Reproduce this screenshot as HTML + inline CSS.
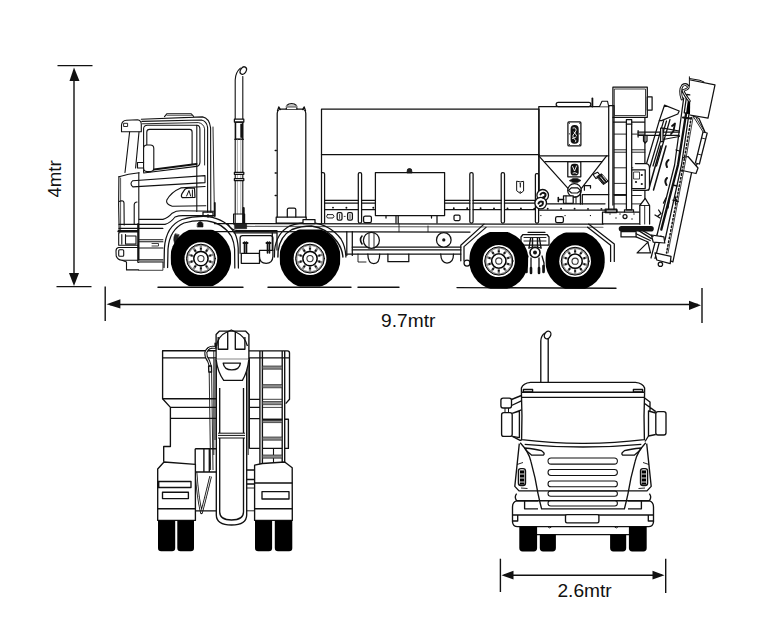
<!DOCTYPE html>
<html><head><meta charset="utf-8"><title>Truck dimensions</title>
<style>
html,body{margin:0;padding:0;background:#fff;}
body{width:768px;height:644px;overflow:hidden;}
svg{display:block;}
text{font-family:"Liberation Sans",sans-serif;fill:#111;}
</style></head>
<body>
<svg width="768" height="644" viewBox="0 0 768 644">
<rect width="768" height="644" fill="#fff"/>

<!-- DIMENSIONS -->
<g id="dims" stroke="#111" stroke-width="1.4" fill="none">
  <line x1="74" y1="70" x2="74" y2="283"/>
  <line x1="57.5" y1="65.6" x2="92.5" y2="65.6"/>
  <line x1="56.5" y1="286.6" x2="91.5" y2="286.6"/>
  <line x1="110" y1="304.5" x2="698" y2="304.5"/>
  <line x1="105.2" y1="286.5" x2="105.2" y2="321"/>
  <line x1="702" y1="288" x2="702" y2="323"/>
  <line x1="504" y1="575.2" x2="662" y2="575.2"/>
  <line x1="500.4" y1="558.7" x2="500.4" y2="592"/>
  <line x1="665.7" y1="558.7" x2="665.7" y2="593"/>
</g>
<g fill="#111" stroke="none">
  <polygon points="74,67.5 69.5,81 79.5,81"/>
  <polygon points="74,286 69,273 79,273"/>
  <polygon points="106.5,304.3 120.4,299.2 120.4,308.6"/>
  <polygon points="701,305.3 689,300.8 689,310"/>
  <polygon points="501.5,575.2 513.5,570.8 513.5,579.6"/>
  <polygon points="664.5,575.2 652.5,570.8 652.5,579.6"/>
</g>
<text transform="translate(408.2,327.3) scale(1.03,1)" font-size="18.6" text-anchor="middle">9.7mtr</text>
<text transform="translate(584.6,597) scale(1.03,1)" font-size="18.6" text-anchor="middle">2.6mtr</text>
<text transform="translate(60.5,178.9) rotate(-90)" font-size="18.6" text-anchor="middle">4mtr</text>

<!-- SIDE VIEW -->
<g id="side" stroke="#111" stroke-width="1.25" fill="none" stroke-linejoin="round" stroke-linecap="round">


  <!-- exhaust -->
  <path d="M235.2,226 L235.2,80 Q235.4,72.5 240.4,68.2" stroke-width="1.1"/>
  <path d="M242.8,226 L242.8,76.5" stroke-width="1.1"/>
  <ellipse cx="243.3" cy="70.6" rx="2.8" ry="4" transform="rotate(30 243.3 70.6)" fill="#fff"/>
  <rect x="234.4" y="119.2" width="9.4" height="2.8" fill="#fff"/>
  <rect x="235.6" y="122.2" width="7" height="16.8"/>
  <path d="M241.2,124.5 L241.2,137" stroke-width="1.8"/>
  <path d="M234.6,139.3 L243.6,139.3" stroke-width="1"/>
  <path d="M237.4,139.5 L237.4,214 M240.8,139.5 L240.8,214" stroke-width="0.6" stroke="#777"/>
  <rect x="234.4" y="172.3" width="9.4" height="2" fill="#fff"/>
  <rect x="234.4" y="178.6" width="9.4" height="2" fill="#fff"/>
  <path d="M233.6,214 L233.6,224 L244.6,224 L244.6,214 Z" stroke-width="1.2"/>
  <path d="M243.6,208 L243.6,224" stroke-width="2.2"/>
  <!-- vertical tank -->
  <path d="M277.2,217 L277.2,113.5 Q277.4,109.2 281.5,109 L301.5,109 Q305.6,109.2 305.8,113.5 L305.8,217"/>
  <path d="M277.4,110.8 L278.8,106.8 L280.6,109.6 M305.6,110.8 L304.2,106.8 L302.4,109.6" stroke-width="1.1"/>
  <path d="M286.2,109 L287.2,105.2 Q288.5,103.6 291.6,103.6 Q294.7,103.6 296,105.2 L297,109" fill="#fff"/>
  <path d="M286.8,106.6 L296.4,106.6" stroke="#888" stroke-width="2.4"/>
  <path d="M275.2,150.5 L276.3,150.5 M275.2,173 L276.3,173 M275.2,195.5 L276.3,195.5" stroke-width="1.4"/>
  <rect x="276.2" y="217.1" width="30" height="6" />
  <path d="M287.3,217 L287.3,209.5 Q287.5,208 289,208 L294.2,208 Q295.8,208 295.8,209.5 L295.8,217"/>
  <!-- main body -->
  <path d="M321.5,223 L321.5,109 L539,109 L539,201"/>
  <path d="M321.5,154.7 L539,154.7"/>
  <path d="M324.6,223 L324.6,174 Q324.6,172.5 323,172.5 L321.5,172.5"/>
  <rect x="358.3" y="172.5" width="3.3" height="50.5" rx="1.5"/>
  <rect x="469.8" y="172.6" width="3.3" height="50.4" rx="1.5"/>
  <rect x="501.2" y="172.6" width="3.3" height="50.4" rx="1.5"/>
  <rect x="535.4" y="173.6" width="3.2" height="49.4" rx="1.2"/>
  <rect x="375.4" y="172.5" width="69.2" height="43" fill="#fff"/>
  <path d="M407,172.5 L407.6,169.2 Q409.5,167.8 411.4,169.2 L412,172.5 Z" fill="#222" stroke-width="0.9"/>
  <path d="M386,215.5 L386,218 M396,215.5 L396,223 M398.2,215.5 L398.2,223 M431.5,215.5 L431.5,218 M437,215.5 L437,223" />
  <path d="M324.6,200.4 L358.3,200.4 M361.6,200.4 L375.4,200.4 M444.6,200.4 L469.8,200.4 M473.1,200.4 L501.2,200.4 M504.5,200.4 L535.4,200.4"/>
  <path d="M324.6,203.2 L358.3,203.2 M361.6,203.2 L375.4,203.2 M444.6,203.2 L469.8,203.2 M473.1,203.2 L501.2,203.2 M504.5,203.2 L535.4,203.2"/>
  <path d="M324.6,209.5 L358.3,209.5 M361.6,209.5 L375.4,209.5 M444.6,209.5 L469.8,209.5 M473.1,209.5 L501.2,209.5 M504.5,209.5 L535.4,209.5 M538.6,210.1 L605,210.2"/>
  <path d="M538.6,203.8 L605,203.8"/>
  <g fill="#111" stroke="none">
  <circle cx="333.0" cy="207.6" r="0.95"/><circle cx="346.4" cy="207.7" r="0.95"/><circle cx="373.3" cy="207.8" r="0.95"/><circle cx="453.8" cy="208.2" r="0.95"/><circle cx="467.2" cy="208.3" r="0.95"/><circle cx="480.6" cy="208.3" r="0.95"/><circle cx="494.0" cy="208.4" r="0.95"/><circle cx="507.5" cy="208.5" r="0.95"/><circle cx="520.9" cy="208.5" r="0.95"/><circle cx="534.3" cy="208.6" r="0.95"/><circle cx="547.7" cy="208.7" r="0.95"/><circle cx="561.1" cy="208.7" r="0.95"/><circle cx="574.6" cy="208.8" r="0.95"/><circle cx="588.0" cy="208.9" r="0.95"/><circle cx="601.4" cy="208.9" r="0.95"/><rect x="540.3" y="215" width="1.1" height="1.1"/><rect x="564.5" y="215" width="1.1" height="1.1"/><rect x="589.9" y="215" width="1.1" height="1.1"/></g>
  <path d="M327.5,214.6 L333,214.6 Q335,216.3 333,218 L327.5,218 Q325.5,216.3 327.5,214.6 Z" stroke-width="0.9"/>
  <rect x="337.2" y="212.6" width="4.8" height="7.6" rx="1.4"/>
  <rect x="347.6" y="212.6" width="4.8" height="7.6" rx="1.4"/>
  <path d="M339.6,214.5 L339.6,218.5 M350,214.5 L350,218.5 M344.2,216.4 L345.2,216.4" stroke-width="0.8"/>
  <rect x="363.6" y="216" width="7.8" height="6.6" rx="1.6"/>
  <rect x="454" y="215" width="6" height="5.5" rx="1.2"/>
  <rect x="555.6" y="216.7" width="7.8" height="5.9" rx="1.6"/>
  <path d="M517,181.3 Q520.3,182.6 523.6,181.3 L523.6,191 L520.3,193.4 L517,191 Z" stroke-width="1"/>
  <path d="M520.3,183.2 L520.3,187" stroke-width="1.1"/><circle cx="520.3" cy="192" r="0.8" fill="#111" stroke="none"/>
  <!-- hopper -->
  <path d="M538.8,201 L538.8,106.5 L608.7,106.5"/>
  <path d="M538.8,155.8 L608.7,155.8 M545,161.6 L602,161.6"/>
  <path d="M538.8,155.8 L568,188.3 M606.6,155.8 L581.4,188.3"/>
  <rect x="556.2" y="102.3" width="34.6" height="4.2" rx="2"/>
  <path d="M592.4,106.5 L592.4,98.4" stroke-width="1.8"/>
  <path d="M599.5,106.5 L602,101.2 L607.5,101.2 L608.7,106.5" fill="#fff" stroke-width="1.1"/>
  <rect x="567.9" y="121.9" width="13" height="24" rx="1"/>
  <rect x="570.6" y="125.1" width="8.1" height="18.7" rx="3.8" fill="#111" stroke="none"/>
  <path d="M573,128 Q576.5,127 576,130.5 Q575,133.5 573,135 Q572,138 575,139.5 Q577,141 575.5,142 M574,132 L576.5,135.5 M572.5,138.5 L576,137" stroke="#fff" stroke-width="0.9"/>
  <g fill="#111" stroke="none"><circle cx="569.4" cy="123.2" r=".6"/><circle cx="579.7" cy="123.2" r=".6"/><circle cx="569.4" cy="144.5" r=".6"/><circle cx="579.7" cy="144.5" r=".6"/><circle cx="569.4" cy="133.8" r=".6"/><circle cx="579.7" cy="133.8" r=".6"/></g>
  <rect x="567.8" y="161.7" width="13" height="15.1"/>
  <rect x="570.6" y="163.8" width="8.1" height="11.8" rx="3.4" fill="#111" stroke="none"/>
  <path d="M572.6,166.5 L574.5,171 L576.5,166 M573,173 Q575,172 577,173.5" stroke="#fff" stroke-width="0.9"/>
  <path d="M569.5,180.5 L573,178.4 L577.5,178.4 L581,180.5 L577.5,182.6 L573,182.6 Z" fill="#111" stroke-width="0.6"/>
  <circle cx="574.5" cy="190.4" r="6.8" fill="#fff"/>
  <path d="M568.5,190.4 L571.5,187.8 L577.5,187.8 L580.5,190.4 L577.5,193 L571.5,193 Z" stroke-width="1.2"/>
  <path d="M580.4,190.5 L580.4,204 M582.3,194.5 L582.3,204 M582.3,194.5 L608.7,194.5 M614,194.5 L626.4,194.5"/>
  <rect x="563.5" y="195.8" width="9.7" height="7.5" fill="#fff"/>
  <path d="M558.3,199.5 L563.5,199.5 M558.3,197.6 L558.3,201.6" stroke-width="1.6"/>
  <path d="M566,196 L566,203 M573.2,197 L576,197 L576,203.5" stroke-width="1"/>
  <circle cx="542.7" cy="195.3" r="5.8" fill="#fff" stroke-width="1.3"/>
  <circle cx="540.7" cy="203.1" r="5.8" fill="#fff" stroke-width="1.3"/>
  <path d="M540.5,194.5 Q542.5,191.5 545.5,194 Q546,197 543,197.5 M538.5,203.5 Q540,200.5 542.8,202 Q543.5,205.5 540,206" stroke-width="2"/>
  <path d="M593,174.5 L597.6,172.2 L600.6,176 L596,178.6 Z" fill="#fff" stroke-width="1.1"/>
  <path d="M597,176.5 L601.5,173.8 L608.2,181.2 L603.6,184.4 Z" fill="#1a1a1a" stroke-width="1"/>
  <path d="M600.5,177 L604.5,182 M602.8,175.8 L606.6,180.6" stroke="#fff" stroke-width="0.8"/>
  <path d="M584.4,190.2 L584.4,185.6 L590.5,185.6 L590.5,188" />

  <!-- rear ladder/frame and control box -->
  <rect x="612.9" y="87.2" width="34.4" height="30.1" fill="#fff"/>
  <rect x="614.7" y="89" width="30.8" height="26.5" stroke-width="0.8"/>
  <rect x="647.3" y="96.8" width="4.8" height="13.2" fill="#fff"/>
  <path d="M612.9,117.3 L612.9,205 M644.9,117.3 L644.9,210 M612.9,122.1 L644.9,122.1"/>
  <path d="M614.4,134.1 L644.9,134.1 M614.4,149.8 L626.4,149.8 M631.7,149.8 L644.9,149.8 M614.4,152.2 L626.4,152.2 M631.7,152.2 L644.9,152.2 M614.4,167.8 L626.4,167.8 M631.7,167.8 L632.9,167.8 M614.4,183.4 L626.4,183.4 M614.4,195.5 L626.4,195.5 M631.7,195.5 L641.3,195.5 M614.4,203.9 L626.4,203.9 M631.7,203.9 L641.3,203.9" stroke-width="0.9"/>
  <rect x="626.4" y="119.7" width="5.3" height="90.2" fill="#fff"/>
  <path d="M626.4,124 L631.7,124" />
  <rect x="602.5" y="212.1" width="37.8" height="11.7" fill="#fff"/>
  <circle cx="625" cy="216.5" r="2" />
  <g fill="#111" stroke="none"><circle cx="610" cy="214" r=".7"/><circle cx="616" cy="218" r=".7"/><circle cx="620" cy="214" r=".7"/><circle cx="632" cy="219" r=".7"/><circle cx="634" cy="214" r=".7"/></g>
  <path d="M606,211.8 L606,209.8 L617,209.8 L617,211.8 M624.5,211.8 L624.5,209.8 L633.5,209.8 L633.5,211.8" />

  <!-- boom -->
  <!-- right panel -->
  <path d="M690.5,114.5 L699,118.5 L705.2,132.5 L697.5,163.5 L691.6,172.5 L672.9,261.8 L666,259" fill="#fff"/>
  <path d="M693,116 L704.2,133.7 M696.4,118.2 L704.9,132.2" stroke-width="0.9"/>
  <!-- cylinder -->
  <path d="M703,132 L707.2,133 L699.4,164 L695.4,163 Z" fill="#fff"/>
  <path d="M701.5,138 L705.6,139 M697.5,154 L701.3,155" stroke-width="0.9"/>
  <path d="M681.5,158 L688,156.5 L698,168 L696,173.5 L680,170 Z" fill="#fff"/>
  <!-- column -->
  <path d="M683.7,98 L674.6,165 L657,235 L665,240 L681.5,165 L691,100 Z" fill="#fff" stroke="none"/>
  <path d="M683.7,98 L674.6,165 L657,235 M691,100 L681.5,165 L665,240"/>
  <path d="M687.3,106 L678,165 L661.3,229.6" stroke-width="2.3"/>
  <path d="M692.5,110 L683.3,165 L666.5,253" stroke-width="1.5" stroke-dasharray="1.6,2.2"/>
  <path d="M694,112 L684.8,165 L668,253" stroke-width="0.8"/>
  <path d="M657,235 L651,258 M661,236 L655,258.5"/>
  <path d="M676,150 L679.5,151 M673,185 L677,186" stroke-width="1.3"/>
  <rect x="685.5" y="94.9" width="8" height="18.6" fill="#fff" transform="rotate(8 689.5 104)"/>
  <rect x="686.8" y="101" width="4.6" height="12.5" fill="#000" stroke="none" transform="rotate(8 689 108)"/>
  <path d="M683,117.5 L691,118.5" stroke-width="2"/>
  <!-- top box -->
  <path d="M690.5,80 L715,84.8 L708,118.2 L690,115" fill="#fff"/>
  <path d="M689.4,76.8 L689.4,86 M689.4,78.5 L700,80.3 L704,82" stroke-width="1"/>
  <!-- hose loop -->
  <path d="M682,99 Q679,90 682.5,85.5 Q686,83 688.3,86.5 Q689,89 683,90.5 Q684,94 689.4,101" stroke-width="2.8"/>
  <path d="M682,99 Q679,90 682.5,85.5 Q686,83 688.3,86.5 Q689,89 683,90.5 Q684,94 689.4,101" stroke-width="0.9" stroke="#fff"/>
  <!-- upper-left box -->
  <path d="M664.5,105.2 L679.2,111 L677.8,114 L661.5,120.6 L659.3,120.6 Z" fill="#fff"/>
  <!-- tilted bars -->
  <path d="M659.3,120.6 L645.3,167.8 M663.7,120.6 L649.7,167.8"/>
  <path d="M666.5,121 L653,166 M670,119.5 L656.5,166" />
  <path d="M661,146 L648.5,190 M666,146 L653.5,190" stroke-width="1.5"/>
  <path d="M668.5,160 Q665,163 667,167 M667,178 Q664,181 666.5,185" stroke-width="2"/>
  <path d="M672,126 L675,123.5 L673.5,131 L671,134" stroke-width="1.8"/>
  <path d="M669,201 L668,208 M666,198 L663.5,203" stroke-width="1.4"/>
  <!-- horizontal arm -->
  <path d="M638.1,132.2 L679.3,132.2 M638.1,135.3 L679.3,135.3" />
  <path d="M638.1,130.5 L638.1,137 M663,128.2 L679.3,131 M663,139.5 L679.3,136.5 M660.6,128 L660.6,141.5 L663,141.5 L663,128 Z" fill="#fff"/>
  <path d="M643.5,135.3 L643.5,141 L645.2,143 L647,141 L647,135.3" />
  <!-- motor bracket -->
  <path d="M635.4,163.6 L646,163.6 Q649.5,164 649.5,168 L649.5,187 Q649.5,190.4 646,190.4 L633,190.4" fill="#fff"/>
  <rect x="631.8" y="169.8" width="13.4" height="18.8" fill="#fff"/>
  <rect x="634" y="172" width="5.5" height="7" stroke-width="0.8"/>
  <g fill="#111" stroke="none"><circle cx="636" cy="182" r="1.1"/><circle cx="641.8" cy="175" r="1.1"/><circle cx="641.8" cy="184" r="1.1"/></g>
  <!-- pointed post -->
  <path d="M639.8,224 L639.8,205.5 L645.2,198.4 L649.6,205.5 L649.6,224" fill="#fff"/>
  <path d="M639.8,205.5 L649.6,205.5 M644.7,205.5 L644.7,224" stroke-width="0.9"/>
  <!-- lower foot -->
  <path d="M651.4,235 L663.9,236.8 L664.8,243 L653.2,242.1 Z" fill="#fff"/>
  <path d="M637.1,252.9 L647.9,242.1 L650.5,252.9 Z" fill="#fff"/>
  <path d="M655,252.9 L671,256.4 L670.2,263.6 L656.8,260 Z" fill="#fff"/>
  <circle cx="660.4" cy="264.2" r="2.2" fill="#fff"/>
  <path d="M637.1,229.6 L651.4,238.6 M641,229.6 L653,236.5" />
  <path d="M621.5,228.8 L651,228.8" stroke-width="5.6" stroke-linecap="round"/>
  <path d="M621,231.7 L636.1,231.7 L636.1,236.9 L621,236.9 Z" fill="#fff"/>
  <path d="M636.1,233.7 L650.2,240.5 M636.1,236.9 L648,242" />
  <path d="M672.9,200.2 L678.2,201.5 M675.5,197 L675.5,204" stroke-width="1.3"/>
  <path d="M658.6,210 L661,213.6 L658,216 M655,215 L660,218" stroke-width="1.3"/>
  <!-- right post of hopper -->
  <path d="M608.7,209 L608.7,105.7 L614,105.7 L614,209"/>
  <rect x="605.2" y="209" width="11.4" height="3.5"/>


  <!-- ground -->
  <path d="M158,287.2 L243,287.2 M268,287.2 L351,287.2 M358,287.2 L399,287.2 M457,287.6 L616,288.3" stroke-width="1.4"/>
  <!-- chassis rails -->
  <path d="M214.4,223.6 L603,224.2 M214.4,231.7 L470,232 M528,232.3 L545,232.3"/>
  <path d="M244,226.4 L603,227.2" stroke="#666" stroke-width="1.1"/>
  <path d="M227.8,224 Q231.5,230.7 238,230.7 L277,230.7 M234,232.8 L277,232.8"/>
  <!-- cab fender -->
  <path d="M164,267.5 L164.4,248 Q166,226 182,219.5 Q194,215.8 208,216.6 Q226,219 235,233.5 Q237.6,239 238.2,248 L238.4,268"/>
  <path d="M167.6,267.5 L168,249 Q169.5,229.5 184,223 Q195,219.8 207,220.8 Q223.5,223 231.5,236.5 Q234,242 234.6,249 L234.8,268"/>
  <path d="M208,214.5 L208,217.2 M203,216.2 L213,216.2 L213,212 L203,212 Z" fill="#fff"/>
  <!-- 2nd axle fender -->
  <path d="M274.4,257 L274.6,250 Q276.5,233 290,225.8 Q300,222.3 312,222.6 Q330,224.5 341,239 Q345.5,246.5 345.9,257"/>
  <path d="M277.9,257 L278.1,251 Q280,236 292,229.5 Q301,226 311.5,226 Q327,228 337,241.5 Q342.4,249 342.9,257" stroke-width="1.4"/>
  <rect x="303" y="219.5" width="12" height="4" fill="#fff"/>
  <!-- between axles under chassis -->
  <path d="M240.1,253.3 L240.1,238 Q240.1,235.7 242.5,235.7 L270.5,235.7 Q272.9,235.7 272.9,238 L272.9,250.4"/>
  <rect x="241.3" y="253.3" width="18.2" height="10" fill="#fff"/>
  <path d="M259.5,250.4 L272.9,250.4 L272.9,256.5 Q272.5,263.3 266.2,263.3 Q259.5,263.3 259.5,256.5 Z" fill="#fff"/>
  <path d="M244.5,242 L244.5,253 M246.5,242 L246.5,253 M267.5,242 L267.5,253 M269.5,242 L269.5,253" stroke-width="1.6"/>
  <path d="M243.5,243 L247.5,243 M266.5,243 L270.5,243" stroke-width="2"/>
  <path d="M272.3,232.8 L272.3,250 M277,232.8 L277,250" />
  <path d="M234.8,223.4 L246.6,223.4 L246.6,228.7 L234.8,228.7 Z" fill="#222" stroke-width="0.6"/>
  <path d="M197.5,223.5 Q200.3,219.5 203,223.5 L203,227 L197.5,227 Z" fill="#111" stroke-width="0.6"/>
  <path d="M175,234 Q172,240 176,246 L179,244 Q177,239 179,235 Z" fill="#222" stroke-width="0.6"/>
  <path d="M214.8,203 L214.8,216" stroke-width="1.8"/>
  <!-- mid chassis -->
  <path d="M346.8,231.7 L346.8,255.4 M352.3,231.7 L352.3,255.4"/>
  <path d="M352.3,247.2 L460.8,247.2 M352.3,249.9 L460.8,249.9 M346.8,254.1 L460.8,254.1"/>
  <circle cx="371.4" cy="240.3" r="8" fill="#fff"/>
  <path d="M369,232.5 L369,248 M374,232.5 L374,248" stroke-width="0.9"/>
  <path d="M362,236 Q359,239.5 362,244" stroke-width="1.6"/>
  <path d="M367.8,254 Q368,263.6 373.8,263.6 Q379.7,263.6 379.7,254"/>
  <circle cx="443.8" cy="239.9" r="7.3" fill="#fff"/>
  <circle cx="443.8" cy="239.9" r="1" fill="#111"/>
  <path d="M440.7,254 Q441,263 447,263 Q453.5,263 453.5,254"/>
  <path d="M387.9,254 L387.9,261.7 L408.8,261.7 L408.8,254"/>
  <path d="M358,254 L358,262 L366,262" stroke-width="0.9"/>
  <path d="M399,223.6 L399,231.7 M428,226 L428,231.7" stroke-width="0.8"/>
  <!-- rear fender bracket -->
  <path d="M460.8,260.8 L460.8,245.3 L484,224.1 M588.6,224.1 L614.3,244 L614.3,261.4"/>
  <path d="M464,260.8 L464,246.6 L486,227.4 M587.6,227.2 L610.6,245.3 L610.6,261.4"/>
  <!-- rear axle stuff -->
  <path d="M521,237 L523,234.5 L547,234.5 L549,237 L549,245 L521,245 Z" fill="#fff"/>
  <path d="M524,237.5 L546,237.5 M524,241 L546,241" stroke-width="0.9"/>
  <path d="M530.5,238.5 L529,248 M539.5,238.5 L541,248 M532.5,238 L532.5,247 M537.5,238 L537.5,247" stroke-width="1.4"/>
  <circle cx="535" cy="252.5" r="5" fill="#fff" stroke-width="1.6"/>
  <circle cx="535" cy="252.5" r="2" fill="#111" stroke="none"/>
  <path d="M528,256 L526,263 L526,271 M542,256 L544,263 L544,271 M531,258 L531,268 M539,258 L539,268" stroke-width="1.3"/>
  <path d="M526.5,266 L526.5,272 M543.5,266 L543.5,272 M531,268 L531,273 M539,268 L539,273" stroke-width="2.6"/>
  <path d="M529,248 Q535,246 541,248" stroke-width="1.2"/>
  <circle cx="467" cy="263" r="3" fill="#fff"/>
  <!-- wheels -->
<clipPath id="tc1"><rect x="170.70000000000002" y="229.65" width="60.4" height="56.7"/></clipPath>
<circle cx="200.9" cy="258" r="30.55" fill="#000" stroke="none" clip-path="url(#tc1)"/>
<circle cx="200.9" cy="258.6" r="16.4" fill="#fff" stroke="none"/>
<circle cx="200.9" cy="258.6" r="14.399999999999999" fill="#8a8a8a" stroke="#000" stroke-width="1"/>
<polygon points="202.00,250.78 202.13,245.86 207.40,247.57 204.61,251.62" fill="#fff" stroke="none"/>
<polygon points="206.39,252.92 209.38,249.01 212.64,253.50 208.00,255.14" fill="#fff" stroke="none"/>
<polygon points="208.68,257.23 213.40,255.83 213.40,261.37 208.68,259.97" fill="#fff" stroke="none"/>
<polygon points="208.00,262.06 212.64,263.70 209.38,268.19 206.39,264.28" fill="#fff" stroke="none"/>
<polygon points="204.61,265.58 207.40,269.63 202.13,271.34 202.00,266.42" fill="#fff" stroke="none"/>
<polygon points="199.80,266.42 199.67,271.34 194.40,269.63 197.19,265.58" fill="#fff" stroke="none"/>
<polygon points="195.41,264.28 192.42,268.19 189.16,263.70 193.80,262.06" fill="#fff" stroke="none"/>
<polygon points="193.12,259.97 188.40,261.37 188.40,255.83 193.12,257.23" fill="#fff" stroke="none"/>
<polygon points="193.80,255.14 189.16,253.50 192.42,249.01 195.41,252.92" fill="#fff" stroke="none"/>
<polygon points="197.19,251.62 194.40,247.57 199.67,245.86 199.80,250.78" fill="#fff" stroke="none"/>
<circle cx="200.90" cy="248.80" r="1.05" fill="#111" stroke="none"/>
<circle cx="206.66" cy="250.67" r="1.05" fill="#111" stroke="none"/>
<circle cx="210.22" cy="255.57" r="1.05" fill="#111" stroke="none"/>
<circle cx="210.22" cy="261.63" r="1.05" fill="#111" stroke="none"/>
<circle cx="206.66" cy="266.53" r="1.05" fill="#111" stroke="none"/>
<circle cx="200.90" cy="268.40" r="1.05" fill="#111" stroke="none"/>
<circle cx="195.14" cy="266.53" r="1.05" fill="#111" stroke="none"/>
<circle cx="191.58" cy="261.63" r="1.05" fill="#111" stroke="none"/>
<circle cx="191.58" cy="255.57" r="1.05" fill="#111" stroke="none"/>
<circle cx="195.14" cy="250.67" r="1.05" fill="#111" stroke="none"/>
<circle cx="200.9" cy="258.6" r="7.1" fill="#fff" stroke="#000" stroke-width="1.4"/>
<circle cx="200.9" cy="258.6" r="3.1" fill="#fff" stroke="#333" stroke-width="1.1"/>
<clipPath id="tc2"><rect x="279.7" y="229.4" width="60.6" height="57.2"/></clipPath>
<circle cx="310" cy="258" r="30.65" fill="#000" stroke="none" clip-path="url(#tc2)"/>
<circle cx="310" cy="258.6" r="16.4" fill="#fff" stroke="none"/>
<circle cx="310" cy="258.6" r="14.399999999999999" fill="#8a8a8a" stroke="#000" stroke-width="1"/>
<polygon points="311.10,250.78 311.23,245.86 316.50,247.57 313.71,251.62" fill="#fff" stroke="none"/>
<polygon points="315.49,252.92 318.48,249.01 321.74,253.50 317.10,255.14" fill="#fff" stroke="none"/>
<polygon points="317.78,257.23 322.50,255.83 322.50,261.37 317.78,259.97" fill="#fff" stroke="none"/>
<polygon points="317.10,262.06 321.74,263.70 318.48,268.19 315.49,264.28" fill="#fff" stroke="none"/>
<polygon points="313.71,265.58 316.50,269.63 311.23,271.34 311.10,266.42" fill="#fff" stroke="none"/>
<polygon points="308.90,266.42 308.77,271.34 303.50,269.63 306.29,265.58" fill="#fff" stroke="none"/>
<polygon points="304.51,264.28 301.52,268.19 298.26,263.70 302.90,262.06" fill="#fff" stroke="none"/>
<polygon points="302.22,259.97 297.50,261.37 297.50,255.83 302.22,257.23" fill="#fff" stroke="none"/>
<polygon points="302.90,255.14 298.26,253.50 301.52,249.01 304.51,252.92" fill="#fff" stroke="none"/>
<polygon points="306.29,251.62 303.50,247.57 308.77,245.86 308.90,250.78" fill="#fff" stroke="none"/>
<circle cx="310.00" cy="248.80" r="1.05" fill="#111" stroke="none"/>
<circle cx="315.76" cy="250.67" r="1.05" fill="#111" stroke="none"/>
<circle cx="319.32" cy="255.57" r="1.05" fill="#111" stroke="none"/>
<circle cx="319.32" cy="261.63" r="1.05" fill="#111" stroke="none"/>
<circle cx="315.76" cy="266.53" r="1.05" fill="#111" stroke="none"/>
<circle cx="310.00" cy="268.40" r="1.05" fill="#111" stroke="none"/>
<circle cx="304.24" cy="266.53" r="1.05" fill="#111" stroke="none"/>
<circle cx="300.68" cy="261.63" r="1.05" fill="#111" stroke="none"/>
<circle cx="300.68" cy="255.57" r="1.05" fill="#111" stroke="none"/>
<circle cx="304.24" cy="250.67" r="1.05" fill="#111" stroke="none"/>
<circle cx="310" cy="258.6" r="7.1" fill="#fff" stroke="#000" stroke-width="1.4"/>
<circle cx="310" cy="258.6" r="3.1" fill="#fff" stroke="#333" stroke-width="1.1"/>
<clipPath id="tc3"><rect x="469.40000000000003" y="232.09999999999997" width="58.8" height="56.6"/></clipPath>
<circle cx="498.8" cy="260.4" r="29.75" fill="#000" stroke="none" clip-path="url(#tc3)"/>
<circle cx="498.8" cy="261.0" r="16.1" fill="#fff" stroke="none"/>
<circle cx="498.8" cy="261.0" r="14.100000000000001" fill="#8a8a8a" stroke="#000" stroke-width="1"/>
<polygon points="499.90,253.18 500.00,248.56 505.14,250.23 502.51,254.02" fill="#fff" stroke="none"/>
<polygon points="504.29,255.32 507.08,251.64 510.26,256.02 505.90,257.54" fill="#fff" stroke="none"/>
<polygon points="506.58,259.63 511.00,258.29 511.00,263.71 506.58,262.37" fill="#fff" stroke="none"/>
<polygon points="505.90,264.46 510.26,265.98 507.08,270.36 504.29,266.68" fill="#fff" stroke="none"/>
<polygon points="502.51,267.98 505.14,271.77 500.00,273.44 499.90,268.82" fill="#fff" stroke="none"/>
<polygon points="497.70,268.82 497.60,273.44 492.46,271.77 495.09,267.98" fill="#fff" stroke="none"/>
<polygon points="493.31,266.68 490.52,270.36 487.34,265.98 491.70,264.46" fill="#fff" stroke="none"/>
<polygon points="491.02,262.37 486.60,263.71 486.60,258.29 491.02,259.63" fill="#fff" stroke="none"/>
<polygon points="491.70,257.54 487.34,256.02 490.52,251.64 493.31,255.32" fill="#fff" stroke="none"/>
<polygon points="495.09,254.02 492.46,250.23 497.60,248.56 497.70,253.18" fill="#fff" stroke="none"/>
<circle cx="498.80" cy="251.20" r="1.05" fill="#111" stroke="none"/>
<circle cx="504.56" cy="253.07" r="1.05" fill="#111" stroke="none"/>
<circle cx="508.12" cy="257.97" r="1.05" fill="#111" stroke="none"/>
<circle cx="508.12" cy="264.03" r="1.05" fill="#111" stroke="none"/>
<circle cx="504.56" cy="268.93" r="1.05" fill="#111" stroke="none"/>
<circle cx="498.80" cy="270.80" r="1.05" fill="#111" stroke="none"/>
<circle cx="493.04" cy="268.93" r="1.05" fill="#111" stroke="none"/>
<circle cx="489.48" cy="264.03" r="1.05" fill="#111" stroke="none"/>
<circle cx="489.48" cy="257.97" r="1.05" fill="#111" stroke="none"/>
<circle cx="493.04" cy="253.07" r="1.05" fill="#111" stroke="none"/>
<circle cx="498.8" cy="261.0" r="7.1" fill="#fff" stroke="#000" stroke-width="1.4"/>
<circle cx="498.8" cy="261.0" r="3.1" fill="#fff" stroke="#333" stroke-width="1.1"/>
<clipPath id="tc4"><rect x="545.5" y="232.50000000000003" width="59.2" height="56.2"/></clipPath>
<circle cx="575.1" cy="260.6" r="29.95" fill="#000" stroke="none" clip-path="url(#tc4)"/>
<circle cx="575.1" cy="261.20000000000005" r="15.9" fill="#fff" stroke="none"/>
<circle cx="575.1" cy="261.20000000000005" r="13.9" fill="#8a8a8a" stroke="#000" stroke-width="1"/>
<polygon points="576.20,253.38 576.28,248.96 581.34,250.60 578.81,254.22" fill="#fff" stroke="none"/>
<polygon points="580.59,255.52 583.25,251.99 586.38,256.30 582.20,257.74" fill="#fff" stroke="none"/>
<polygon points="582.88,259.83 587.11,258.54 587.11,263.86 582.88,262.57" fill="#fff" stroke="none"/>
<polygon points="582.20,264.66 586.38,266.10 583.25,270.41 580.59,266.88" fill="#fff" stroke="none"/>
<polygon points="578.81,268.18 581.34,271.80 576.28,273.44 576.20,269.02" fill="#fff" stroke="none"/>
<polygon points="574.00,269.02 573.92,273.44 568.86,271.80 571.39,268.18" fill="#fff" stroke="none"/>
<polygon points="569.61,266.88 566.95,270.41 563.82,266.10 568.00,264.66" fill="#fff" stroke="none"/>
<polygon points="567.32,262.57 563.09,263.86 563.09,258.54 567.32,259.83" fill="#fff" stroke="none"/>
<polygon points="568.00,257.74 563.82,256.30 566.95,251.99 569.61,255.52" fill="#fff" stroke="none"/>
<polygon points="571.39,254.22 568.86,250.60 573.92,248.96 574.00,253.38" fill="#fff" stroke="none"/>
<circle cx="575.10" cy="251.40" r="1.05" fill="#111" stroke="none"/>
<circle cx="580.86" cy="253.27" r="1.05" fill="#111" stroke="none"/>
<circle cx="584.42" cy="258.17" r="1.05" fill="#111" stroke="none"/>
<circle cx="584.42" cy="264.23" r="1.05" fill="#111" stroke="none"/>
<circle cx="580.86" cy="269.13" r="1.05" fill="#111" stroke="none"/>
<circle cx="575.10" cy="271.00" r="1.05" fill="#111" stroke="none"/>
<circle cx="569.34" cy="269.13" r="1.05" fill="#111" stroke="none"/>
<circle cx="565.78" cy="264.23" r="1.05" fill="#111" stroke="none"/>
<circle cx="565.78" cy="258.17" r="1.05" fill="#111" stroke="none"/>
<circle cx="569.34" cy="253.27" r="1.05" fill="#111" stroke="none"/>
<circle cx="575.1" cy="261.20000000000005" r="7.1" fill="#fff" stroke="#000" stroke-width="1.4"/>
<circle cx="575.1" cy="261.20000000000005" r="3.1" fill="#fff" stroke="#333" stroke-width="1.1"/>
  <!-- cab -->
  <g stroke-width="1.1">
  <path d="M121.5,131.8 L121.5,125 Q122,120.6 126.5,120.3 L137.5,119.8 Q141.3,120.5 141.3,124.5 L141.3,131.8 Z"/>
  <rect x="124" y="123.3" width="3.6" height="3.2" stroke-width="0.9"/>
  <path d="M141.3,119.2 L202.5,116.9 Q209.2,118 210.6,127.8 L210.8,212"/>
  <path d="M141.8,121.4 L201.5,120 Q206.6,121 207.6,127.3 L207.6,212"/>
  <path d="M142.5,123.8 L198.3,122.6 Q203.6,123.5 204.6,128.8 L204.6,165" stroke-width="0.9"/>
  <path d="M164.5,116.6 L167,113.7 L191,113.7 L193.6,116.4" fill="#fff"/>
  <path d="M167,115.4 L191.5,115.4" stroke="#777" stroke-width="1.4"/>
  <path d="M213,127 L214.4,214.5" stroke-width="0.9"/>
  <path d="M143.6,172 L143.6,128.5 Q143.8,125.2 147.5,125.2 L197,125.2 Q199.9,125.4 199.9,129 L200,162 Q199.8,166 196.5,166.4 L143.6,173"/>
  <path d="M146.8,170 L146.8,132 Q146.9,129.4 149.5,129.4 L189.6,129.4 Q192.1,129.5 192.1,132 L192.1,163.8"/>
  <path d="M150,170 L196.5,163.9" stroke-width="2"/>
  <path d="M196.8,125.2 L196.8,211.5"/>
  <rect x="143.6" y="145" width="10.2" height="26.6" rx="3.5" fill="#fff"/>
  <path d="M137.5,162.5 L143.6,162.5 M137.5,168 L143.6,168 M137.5,162.5 L137.5,168"/>
  <path d="M129.6,132 L125,172.5 M139,132 L135.6,168"/>
  <path d="M119,176.8 Q128,174 139.2,172.8"/>
  <path d="M118.9,176.6 Q118.2,205 119.2,233"/>
  <path d="M120.6,178 L120.6,232" stroke-width="0.7"/>
  <path d="M138.8,172.8 L138.8,262"/>
  <path d="M138.2,224 L138.2,262" stroke-width="2"/>
  <path d="M132.8,180.7 L205,175.6 L205,182.6 L132.8,186.9 Q129.2,183.8 132.8,180.7 Z"/>
  <path d="M180.8,187.9 L205.1,186.5 M205.8,205.8 L172.2,206.3 Q165.4,204 166.8,200 Q171,192 180.8,187.9"/>
  <path d="M182.3,197.6 Q180.6,196.8 182,193.6 L185,189.2 Q186.4,188.2 188.5,188.2 L194.5,188 L195,197.4 Z" stroke-width="1.2"/>
  <path d="M186.6,196 L189,190.5 L190.6,196 M192.4,190 L192.4,196.5" stroke-width="1"/>
  <path d="M119.5,201.5 Q119.8,200.8 121.8,200.8 Q124,201 124,203 L124.2,225" />
  <path d="M134.2,224.2 L134.2,204.5 Q134.6,202 137,202"/>
  <path d="M139.2,219.4 L162.9,219.4 Q167.6,218.4 172.2,213.2 Q176,210.8 181,210.8 L214.4,211.2"/>
  <path d="M139.2,224.4 L165,224.4 Q170.5,223 175,217 Q178.5,215.6 183,215.6 L214.4,215.6"/>
  <path d="M119,224.4 L138.8,224.4 M119,228.4 L162.9,228.4"/>
  <path d="M118.7,231.2 L137.8,231.2" stroke-width="2.4"/>
  <path d="M118.7,233.4 L118.7,245.2 L137.8,245.2 M121.8,234.5 L121.8,244 M125.5,234.5 L125.5,244 L136,244 L136,236 L125.5,236"/>
  <path d="M138.8,239.8 L162.9,239.8 M138.8,241.8 L162.9,241.8 M138.8,248 L162.9,248 M138.8,259.8 L162.9,259.8 M138.8,262 L162.9,262" />
  <path d="M138.8,270.3 L162.9,270.3 L162.9,262 M152,243.5 L158.5,243.5 L158.5,246 L152,246" stroke-width="0.8"/>
  <path d="M138.8,261.2 L162.9,261.2" stroke-width="1.8" stroke="#777"/>
  <path d="M137.8,247.5 L118.5,247.5 Q116,248 116,251 L116.2,256 Q117.5,259.8 122,260.3 L137.8,260.3"/>
  <rect x="118.7" y="249.8" width="5" height="6.4" rx="1"/>
  <path d="M126.5,262 L126.5,269.9 L138.6,269.9 M122,260.3 L126.5,262"/>
</g>
</g>

<!-- REAR VIEW -->
<g id="rear" stroke="#111" stroke-width="1.35" fill="none" stroke-linejoin="round">

  <!-- body box -->
  <path d="M216.1,350.7 L162.6,350.7 L162.6,398.7 L170.4,407.4 L170.4,446.5 L163.7,446.5 L163.7,461.8"/>
  <path d="M162.6,357.8 L216.1,357.8 M162.6,398.7 L216.5,398.7 M170.4,407.4 L216.5,407.4 M170.4,418.3 L216.5,418.3"/>
  <path d="M247.5,350.9 L287.5,350.9 Q289.5,351 289.5,353 L289.5,399.2 L285.7,403.6 M247.5,357.9 L289.5,357.9"/>
  <path d="M249.3,399.3 L259.9,399.3 M249.3,407.4 L259.9,407.4 M249.3,418.6 L259.9,418.6 M249.3,448.4 L259.9,448.4 M249.3,357.9 L249.3,448.4"/>
  <path d="M284.7,419.2 L288.4,419.2 L288.4,448.4 L284.7,448.4"/>
  <path d="M262.4,448.4 L282.2,448.4 M273.5,448.4 L273.5,462.7" stroke-width="1.1"/>
  <!-- ladder -->
  <path d="M259.9,350.9 L259.9,484 M262.4,350.9 L262.4,484 M282.2,350.9 L282.2,484 M284.7,350.9 L284.7,484"/>
  <g fill="#8c8c8c" stroke="#222" stroke-width="0.7">
    <rect x="262.4" y="366" width="19.8" height="3.2"/>
    <rect x="262.4" y="384.6" width="19.8" height="3.2"/>
    <rect x="262.4" y="401.5" width="19.8" height="3.2"/>
    <rect x="262.4" y="419.4" width="19.8" height="3.2"/>
    <rect x="262.4" y="437" width="19.8" height="3.2"/>
    <rect x="262.4" y="455" width="19.8" height="3.2"/>
    <rect x="262.4" y="472.4" width="19.8" height="3.2"/>
  </g>
  <path d="M262.4,419.6 L282.2,419.6" stroke-width="2"/>
  <path d="M262.4,399.3 L282.2,399.3 M262.4,407.4 L282.2,407.4" stroke-width="0.8"/>
  <!-- central column -->
  <path d="M216.3,359.3 L216.3,515 Q216.5,525 231.5,525 Q246.5,525 246.7,515 L246.7,359.3" fill="#fff"/>
  <path d="M219.7,438 L219.7,512 Q219.7,520 231.5,520 Q243.5,520 243.5,512 L243.5,438"/>
  <path d="M219.7,388 L219.7,433 M243.5,388 L243.5,433"/>
  <path d="M218,433.2 L245,433.2 M218,435.4 L245,435.4 M218,438 L245,438" stroke-width="1"/>
  <path d="M213.8,350 L213.8,455 M215,359 L215,440 M248.2,359 L248.2,455 M249.5,360 L249.5,440" stroke-width="0.9"/>
  <!-- head -->
  <path d="M216.1,359.3 L216.1,334.5 L219.5,331.1 L245.5,331.1 L248.9,334.5 L248.9,359.3" fill="#fff"/>
  <path d="M216.6,346 Q218,336 226,332.5 L231.3,330 L236.6,332.5 Q244.8,336 247.4,346"/>
  <path d="M218.2,337 L218.2,349.2 L227.7,349.2 L227.7,331.5 M244.9,337 L244.9,349.2 L235.3,349.2 L235.3,331.5"/>
  <path d="M216.1,359.3 L248.9,359.3"/>
  <path d="M216.1,359.3 Q217.5,372 223.7,380.3 L242.4,380.3 Q247.5,372 248.9,359.3" fill="#fff"/>
  <path d="M223.2,363.1 L240.4,363.1 Q239.5,369.9 231.8,369.9 Q224.2,369.9 223.2,363.1 Z"/>
  <rect x="214.4" y="342.7" width="2.2" height="6" fill="#111" stroke="none"/>
  <!-- hose -->
  <path d="M215.1,347.4 Q208,346 205.8,352.5 Q205.5,357 208.6,361 L210.4,366.4" stroke-width="3"/>
  <path d="M215.1,347.4 Q208,346 205.8,352.5 Q205.5,357 208.6,361 L210.4,366.4" stroke-width="1" stroke="#fff"/>
  <path d="M208.6,366 L211.4,366 L211.6,372 L208.8,372 Z" />
  <path d="M209.2,372 L210.6,470 M211.6,372 L213,470" stroke-width="0.9"/>
  <path d="M196,472.4 Q198,500 201.5,512.8 Q205,500 210.6,476.4" stroke-width="2.6"/>
  <path d="M196,472.4 Q198,500 201.5,512.8 Q205,500 210.6,476.4" stroke-width="0.9" stroke="#fff"/>
  <!-- lower chassis behind -->
  <path d="M195.2,448.7 L195.2,472 M203.9,448.7 L203.9,472 M209.3,448.7 L209.3,472 M195.2,448.7 L216.5,448.7"/>
  <path d="M195.4,472 L216.5,472 M195.4,510.8 L216.5,510.8 M246.5,470 L255,470 M246.5,479.5 L255,479.5 M246.5,484 L255,484"/>
  <path d="M246.5,488 L254.6,488 M246.5,510.8 L254.6,510.8" stroke-width="0.9"/>
  <!-- left mudguard -->
  <path d="M157.7,520.4 L157.7,469 L164,462 L195.4,464.3 L195.4,520.4 Z" fill="#fff"/>
  <path d="M157.7,508.7 L195.4,508.7"/>
  <rect x="158" y="481.5" width="33" height="6" />
  <rect x="162.5" y="492.2" width="25.9" height="6.4" />
  <path d="M158.3,481.5 L158.3,487.5" stroke-width="2.2"/>
  <!-- right mudguard -->
  <path d="M254.6,520.4 L254.6,465.2 L262.4,463.5 L284.7,462 L292.2,467.7 L292.3,520.4 Z" fill="#fff"/>
  <path d="M254.6,508.7 L292.3,508.7 M254.6,483 L292.3,483"/>
  <rect x="262" y="491.6" width="27" height="7.4" />
  <!-- tires -->
  <g fill="#000" stroke="none">
  <path d="M158,520.4 L175.2,520.4 L175.2,548 Q175.2,551.2 172,551.2 L161.2,551.2 Q158,551.2 158,548 Z"/>
  <path d="M177.3,520.4 L194,520.4 L194,548 Q194,551.2 190.8,551.2 L180.5,551.2 Q177.3,551.2 177.3,548 Z"/>
  <path d="M255,520.4 L272.1,520.4 L272.1,548 Q272.1,551.2 268.9,551.2 L258.2,551.2 Q255,551.2 255,548 Z"/>
  <path d="M274.8,520.4 L292.3,520.4 L292.3,548 Q292.3,551.2 289.1,551.2 L278,551.2 Q274.8,551.2 274.8,548 Z"/>
  </g>
</g>

<!-- FRONT VIEW -->
<g id="front" stroke="#111" stroke-width="1.35" fill="none" stroke-linejoin="round">

  <g>
  <path d="M583,382.3 L530.6,382.3 Q523,383 521.4,388 L521.4,392.2 M521.4,392.2 L583,392.2 M521.4,397.4 L583,397.4"/>
  <rect x="523.4" y="389.5" width="9.2" height="2.4" />
  <path d="M521.4,392.2 Q522.4,415 521.6,439.7 Q552,443.5 583,443.4"/>
  <path d="M524.7,444.3 Q553,447 583,447"/>
  <path d="M520.2,442.7 Q529,452 530.9,461.4 Q535.5,478 538,493.6 Q539.8,502 541.6,508.8 L583,508.8"/>
  <path d="M519.3,443.6 Q517,465 514.8,486.4 L519,490.9 L583,490.9" />
  <path d="M524.6,448 Q536,449 541.6,450.7 Q545.5,453.4 543.5,455 L531.8,455.2 Q527,452 524.6,448 Z"/>
  <rect x="518.4" y="468.6" width="7.1" height="16.9" rx="2.5"/>
  <rect x="519.9" y="470.4" width="4.4" height="14.2" fill="#000" stroke="none"/>
  <path d="M519.9,474 L524.3,474 M519.9,478 L524.3,478 M519.9,482 L524.3,482" stroke="#fff" stroke-width="0.9"/>
  <path d="M517,464.5 L523,462.5 M521,488 L527.5,488.5" stroke-width="0.9"/>
  <path d="M516.6,493.6 Q514,497 516.6,500.7 L538,500.7"/>
  <path d="M583,500.7 L517,500.7 Q512.5,502 512.5,507 L512.5,522 Q513,526.6 517.5,526.6 L583,526.6"/>
  <path d="M512.5,515 L583,515 M512.5,521 L517.7,521 L517.7,515"/>
  <path d="M524.6,500.7 L524.6,508.8 L538,508.8"/>
  <path d="M522.9,526.6 L522.9,534.6 L583,534.6"/>
  <path d="M548,526.8 Q549.5,529 551.5,526.8" stroke-width="1"/>
  <g fill="#000" stroke="none">
   <path d="M519.3,526.6 L537.1,526.6 L537.1,548 Q537.1,551.4 533.8,551.4 L522.6,551.4 Q519.3,551.4 519.3,548 Z"/>
   <path d="M539.8,534.6 L555.9,534.6 L555.9,548 Q555.9,551.4 552.6,551.4 L543.1,551.4 Q539.8,551.4 539.8,548 Z"/>
  </g>
</g>
  <g transform="translate(1166,0) scale(-1,1)">
  <path d="M583,382.3 L530.6,382.3 Q523,383 521.4,388 L521.4,392.2 M521.4,392.2 L583,392.2 M521.4,397.4 L583,397.4"/>
  <rect x="523.4" y="389.5" width="9.2" height="2.4" />
  <path d="M521.4,392.2 Q522.4,415 521.6,439.7 Q552,443.5 583,443.4"/>
  <path d="M524.7,444.3 Q553,447 583,447"/>
  <path d="M520.2,442.7 Q529,452 530.9,461.4 Q535.5,478 538,493.6 Q539.8,502 541.6,508.8 L583,508.8"/>
  <path d="M519.3,443.6 Q517,465 514.8,486.4 L519,490.9 L583,490.9" />
  <path d="M524.6,448 Q536,449 541.6,450.7 Q545.5,453.4 543.5,455 L531.8,455.2 Q527,452 524.6,448 Z"/>
  <rect x="518.4" y="468.6" width="7.1" height="16.9" rx="2.5"/>
  <rect x="519.9" y="470.4" width="4.4" height="14.2" fill="#000" stroke="none"/>
  <path d="M519.9,474 L524.3,474 M519.9,478 L524.3,478 M519.9,482 L524.3,482" stroke="#fff" stroke-width="0.9"/>
  <path d="M517,464.5 L523,462.5 M521,488 L527.5,488.5" stroke-width="0.9"/>
  <path d="M516.6,493.6 Q514,497 516.6,500.7 L538,500.7"/>
  <path d="M583,500.7 L517,500.7 Q512.5,502 512.5,507 L512.5,522 Q513,526.6 517.5,526.6 L583,526.6"/>
  <path d="M512.5,515 L583,515 M512.5,521 L517.7,521 L517.7,515"/>
  <path d="M524.6,500.7 L524.6,508.8 L538,508.8"/>
  <path d="M522.9,526.6 L522.9,534.6 L583,534.6"/>
  <path d="M548,526.8 Q549.5,529 551.5,526.8" stroke-width="1"/>
  <g fill="#000" stroke="none">
   <path d="M519.3,526.6 L537.1,526.6 L537.1,548 Q537.1,551.4 533.8,551.4 L522.6,551.4 Q519.3,551.4 519.3,548 Z"/>
   <path d="M539.8,534.6 L555.9,534.6 L555.9,548 Q555.9,551.4 552.6,551.4 L543.1,551.4 Q539.8,551.4 539.8,548 Z"/>
  </g>
</g>
<rect x="548" y="457.9" width="69.4" height="6.2" rx="3.1" stroke-width="1.05"/>
<rect x="548" y="469.5" width="69.4" height="5.9" rx="2.9" stroke-width="1.05"/>
<rect x="548" y="481" width="69.4" height="5.8" rx="2.9" stroke-width="1.05"/>
<rect x="548" y="490.9" width="69.4" height="5.4" rx="2.7" stroke-width="1.05"/>
<rect x="548" y="500.4" width="69.4" height="5.6" rx="2.8" stroke-width="1.05"/>

  <rect x="565.5" y="514.6" width="33.4" height="8.2" rx="1.5" fill="#fff"/>
  <!-- exhaust -->
  <path d="M540.8,382 L540.8,341 Q541,335.5 545,333 M548.2,382 L548.2,337.5"/>
  <ellipse cx="547.6" cy="335" rx="3" ry="4" transform="rotate(30 547.6 335)" fill="#fff"/>
  <!-- left mirrors -->
  <rect x="500.9" y="398.1" width="10.6" height="9.9" rx="2.2" fill="#fff"/>
  <path d="M511.5,399.5 L521.4,395.5 M511.5,405.5 L521.4,400.8"/>
  <path d="M505,408 L505,412.6 M508.5,408 L508.5,412.6" stroke-width="1"/>
  <rect x="501.6" y="412.6" width="10.6" height="23.8" rx="2.2" fill="#fff"/>
  <path d="M512.2,413.4 L519.4,411.2 L519.4,437.6 L512.2,436.4 M512.2,413.4 L521.4,409.8"/>
  <path d="M512.5,436.4 L519.6,440.2 L521.6,440.2"/>
  <!-- right mirror -->
  <rect x="655.8" y="411.6" width="10.2" height="23.4" rx="2.2" fill="#fff"/>
  <path d="M655.8,413 L648.5,411 L648.5,436 L655.8,434.5 M644.6,403.5 L655.8,411.6 M644.6,398 L650,402 L650,411.5"/>
  <path d="M648.5,436 L645,441.5"/>
</g>
</svg>
</body></html>
